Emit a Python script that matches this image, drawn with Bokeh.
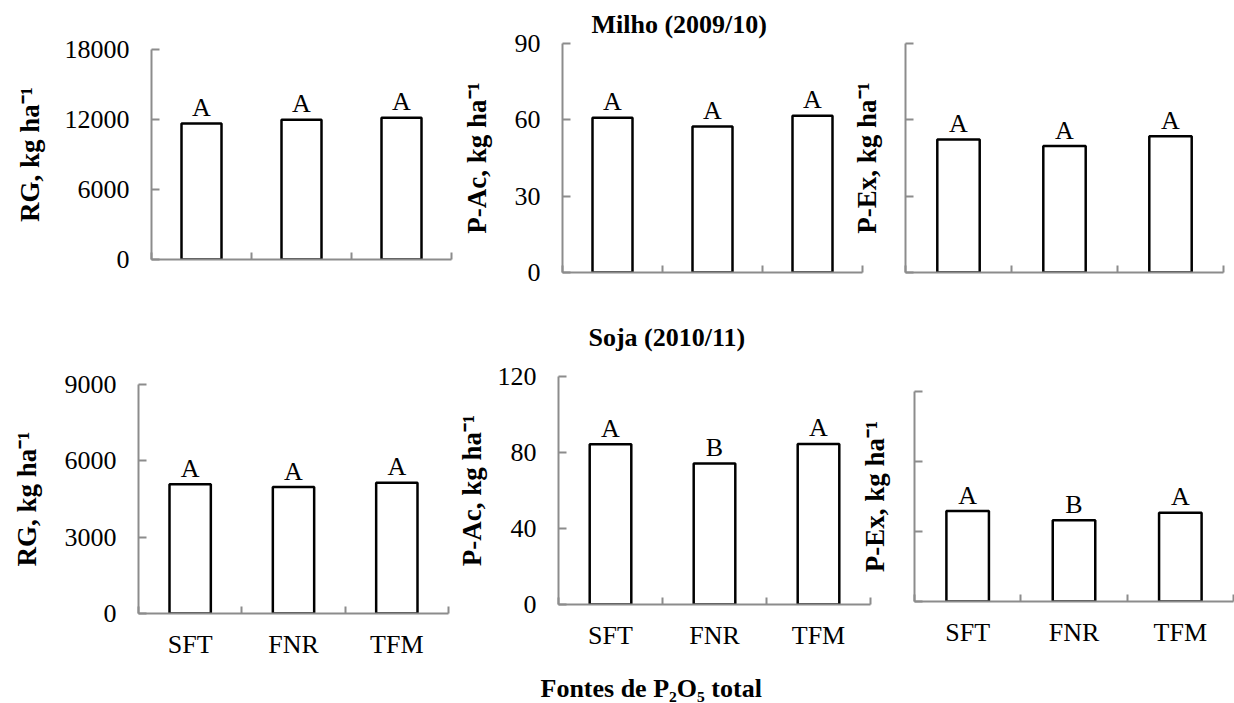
from bokeh.plotting import figure
from bokeh.layouts import row, column
from bokeh.models import Range1d, FixedTicker, Title, ColumnDataSource
from bokeh.embed import file_html
from bokeh.resources import INLINE
from bokeh.core.properties import value

# ---------------- data ----------------
categories = ["SFT", "FNR", "TFM"]

rg_milho = [11650, 11970, 12150]
pac_milho = [60.8, 57.4, 61.6]
pex_milho = [52.3, 49.7, 53.5]
rg_soja = [5075, 4970, 5140]
pac_soja = [84.3, 74.2, 84.5]
pex_soja = [51.7, 46.5, 50.7]

letters_rg_milho = ["A", "A", "A"]
letters_pac_milho = ["A", "A", "A"]
letters_pex_milho = ["A", "A", "A"]
letters_rg_soja = ["A", "A", "A"]
letters_pac_soja = ["A", "B", "A"]
letters_pex_soja = ["A", "B", "A"]

ticks_rg_milho = [0, 6000, 12000, 18000]
ticks_pac_milho = [0, 30, 60, 90]
ticks_pex_milho = [0, 30, 60, 90]
ticks_rg_soja = [0, 3000, 6000, 9000]
ticks_pac_soja = [0, 40, 80, 120]
ticks_pex_soja = [0, 40, 80, 120]

label_rg = "RG, kg ha\u207b\u00b9"
label_pac = "P-Ac, kg ha\u207b\u00b9"
label_pex = "P-Ex, kg ha\u207b\u00b9"
title_milho = "Milho (2009/10)"
title_soja = "Soja (2010/11)"
xlabel = "Fontes de P\u2082O\u2085 total"

FONT = "Liberation Serif"
AXIS_GRAY = "#8c8c8c"


def panel(vals, letters, yticks, ylabel, width, height, borders,
          show_ylabels=True, show_xlabels=False, ylab_standoff=16):
    left, right, top, bottom = borders
    p = figure(width=width, height=height,
               x_range=Range1d(0, len(categories)),
               y_range=Range1d(yticks[0], yticks[-1]),
               output_backend="svg", toolbar_location=None,
               min_border_left=left, min_border_right=right,
               min_border_top=top, min_border_bottom=bottom)
    p.background_fill_color = None
    p.border_fill_color = None
    p.outline_line_color = None
    p.grid.visible = False

    xs = [i + 0.5 for i in range(len(categories))]
    bounds = list(range(len(categories) + 1))
    src = ColumnDataSource(dict(x=xs, top=vals, lab=letters))
    p.vbar(x="x", top="top", bottom=0, width=0.4, source=src,
           fill_color="white", line_color="black", line_width=2.5)
    p.text(x="x", y="top", text="lab", source=src, text_align="center",
           text_baseline="alphabetic", y_offset=-16,
           text_font=value(FONT), text_font_size="26px", text_color="black")

    # x axis: separators between categories as inward ticks
    xa = p.xaxis[0]
    if show_xlabels:
        xa.ticker = FixedTicker(ticks=xs, minor_ticks=bounds)
        xa.major_label_overrides = {x: c for x, c in zip(xs, categories)}
    else:
        xa.ticker = FixedTicker(ticks=[], minor_ticks=bounds)
    xa.major_tick_in = 0
    xa.major_tick_out = 0
    xa.minor_tick_in = 7
    xa.minor_tick_out = 0
    xa.minor_tick_line_color = AXIS_GRAY
    xa.minor_tick_line_width = 2
    xa.axis_line_color = AXIS_GRAY
    xa.axis_line_width = 2
    xa.major_label_text_font = FONT
    xa.major_label_text_font_size = "26px"
    xa.major_label_text_color = "black"
    xa.major_label_standoff = 16 if show_xlabels else 0

    # y axis: inward ticks
    ya = p.yaxis[0]
    if show_ylabels:
        ya.ticker = FixedTicker(ticks=yticks, minor_ticks=[])
        ya.major_label_standoff = 22
    else:
        ya.ticker = FixedTicker(ticks=[], minor_ticks=yticks)
        ya.major_label_standoff = 0
    ya.major_tick_in = 8
    ya.major_tick_out = 0
    ya.minor_tick_in = 8
    ya.minor_tick_out = 0
    ya.major_tick_line_color = AXIS_GRAY
    ya.minor_tick_line_color = AXIS_GRAY
    ya.major_tick_line_width = 2
    ya.minor_tick_line_width = 2
    ya.axis_line_color = AXIS_GRAY
    ya.axis_line_width = 2
    ya.major_label_text_font = FONT
    ya.major_label_text_font_size = "26px"
    ya.major_label_text_color = "black"
    ya.axis_label = ylabel
    ya.axis_label_text_font = FONT
    ya.axis_label_text_font_style = "bold"
    ya.axis_label_text_font_size = "27px"
    ya.axis_label_text_color = "black"
    ya.axis_label_standoff = ylab_standoff
    return p


def strip(text, height, top_border, offset):
    s = figure(width=1234, height=height, output_backend="svg",
               toolbar_location=None, title=None,
               x_axis_location=None, y_axis_location=None,
               min_border_left=0, min_border_right=0,
               min_border_top=top_border, min_border_bottom=0)
    s.background_fill_color = None
    s.border_fill_color = None
    s.outline_line_color = None
    s.grid.visible = False
    s.add_layout(Title(text=text, align="left", offset=offset, standoff=0,
                       text_font=FONT, text_font_style="bold",
                       text_font_size="26px", text_color="black"), "above")
    return s


# top row (height 318)
p1 = panel(rg_milho, letters_rg_milho, ticks_rg_milho, label_rg,
           455, 318, (151, 4, 49, 59), ylab_standoff=17)
p2 = panel(pac_milho, letters_pac_milho, ticks_pac_milho, label_pac,
           409, 318, (107, 2, 43, 46), ylab_standoff=20)
p2.title.text = title_milho
p2.title.align = "left"
p2.title.offset = 29
p2.title.text_font = FONT
p2.title.text_font_style = "bold"
p2.title.text_font_size = "26px"
p2.title.text_color = "black"
p2.title.standoff = 10
p3 = panel(pex_milho, letters_pex_milho, ticks_pex_milho, label_pex,
           390, 318, (61, 11, 43, 46), show_ylabels=False, ylab_standoff=24)

# bottom row (height 305)
p4 = panel(rg_soja, letters_rg_soja, ticks_rg_soja, label_rg,
           452, 305, (138, 4, 26, 50), show_xlabels=True, ylab_standoff=20)
p5 = panel(pac_soja, letters_pac_soja, ticks_pac_soja, label_pac,
           420, 305, (106, 2, 18, 59), show_xlabels=True, ylab_standoff=8)
p6 = panel(pex_soja, letters_pex_soja, ticks_pex_soja, label_pex,
           386, 305, (66, 1, 33, 62), show_ylabels=False, show_xlabels=True,
           ylab_standoff=25)

soja_strip = strip(title_soja, 40, 33, 588)
fontes_strip = strip(xlabel, 40, 39, 540)

top_row = row(column(p1), column(p2), column(p3, margin=(0, 0, 0, -20)))
bottom_row = row(column(p4), column(p5), column(p6, margin=(0, 0, 0, -24)))
layout = column(top_row, soja_strip, bottom_row, fontes_strip)

open("out.html", "w").write(file_html(layout, INLINE))
